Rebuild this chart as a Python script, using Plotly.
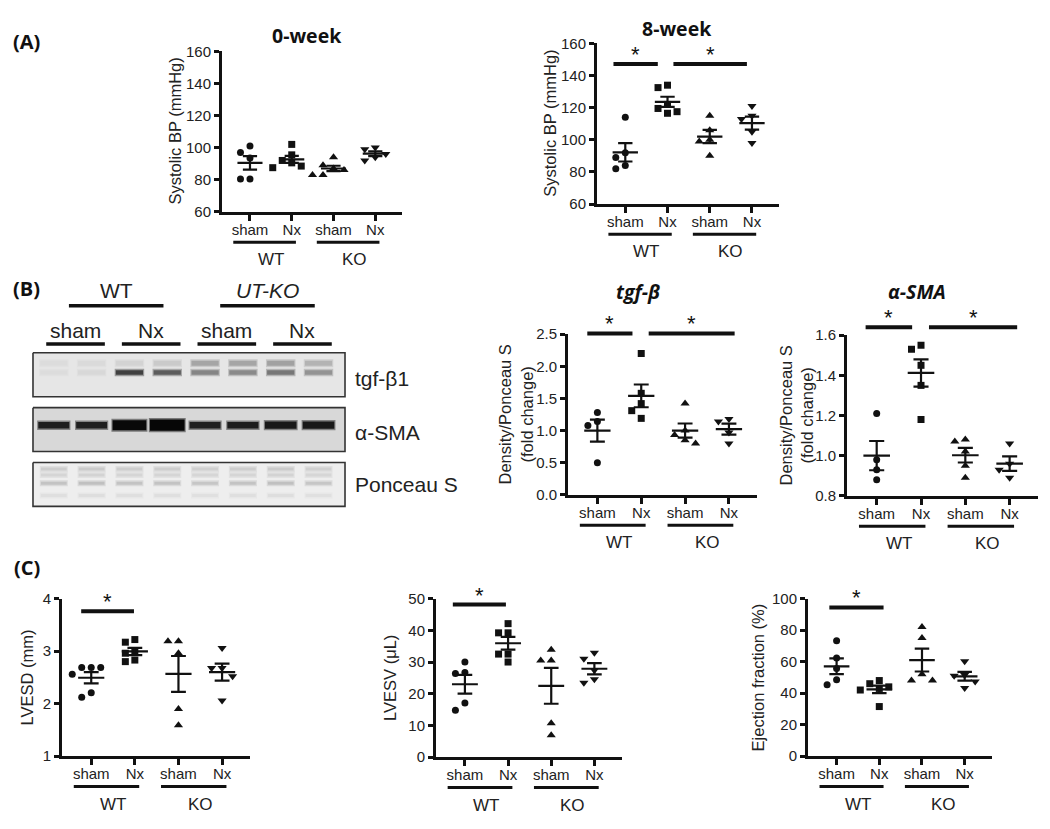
import numpy as np
import plotly.graph_objects as go

# reference canvas (page) and figure placed inside the default 8px body margin
PAGE_W, PAGE_H = 1050, 829
PAD = 8
W, H = PAGE_W - 2 * PAD, PAGE_H - 2 * PAD

# ---------------- data ----------------
categories = ["sham", "Nx", "sham", "Nx"]
genotypes = ["WT", "KO"]

# (A) systolic BP (mmHg)
bp0_wt_sham = [101, 97, 93.5, 80.5, 80.5]
bp0_wt_nx = [102, 95.5, 92, 90.5, 88.5, 87.5]
bp0_ko_sham = [94, 89, 87, 86, 83, 83]
bp0_ko_nx = [100, 99, 96, 94, 92]

bp8_wt_sham = [114, 92, 89, 84, 82]
bp8_wt_nx = [134, 132.5, 122, 119.5, 117.5, 116.5]
bp8_ko_sham = [115, 106, 100, 99, 90]
bp8_ko_nx = [121, 115, 113, 105, 98]

# (B) densitometry (fold change)
tgf_wt_sham = [1.28, 1.14, 1.08, 0.50]
tgf_wt_nx = [2.20, 1.58, 1.42, 1.31, 1.19]
tgf_ko_sham = [1.42, 1.00, 0.93, 0.85, 0.80]
tgf_ko_nx = [1.18, 1.14, 0.97, 0.80]

sma_wt_sham = [1.21, 0.98, 0.93, 0.88]
sma_wt_nx = [1.55, 1.53, 1.45, 1.35, 1.18]
sma_ko_sham = [1.08, 1.07, 1.02, 0.95, 0.89]
sma_ko_nx = [1.06, 0.96, 0.93, 0.89]

# (C) echocardiography
lvesd_wt_sham = [2.69, 2.69, 2.69, 2.56, 2.21, 2.12]
lvesd_wt_nx = [3.22, 3.17, 2.98, 2.96, 2.83, 2.80]
lvesd_ko_sham = [3.19, 3.19, 2.96, 1.90, 1.59]
lvesd_ko_nx = [3.06, 2.68, 2.68, 2.52, 2.06]

lvesv_wt_sham = [30.0, 26.7, 26.4, 17.1, 14.8]
lvesv_wt_nx = [42.1, 39.2, 39.2, 32.5, 32.5, 30.0]
lvesv_ko_sham = [33.9, 30.5, 30.5, 10.7, 6.9]
lvesv_ko_nx = [32.9, 31.0, 27.4, 24.6, 23.5]

ef_wt_sham = [73.2, 62.3, 55.7, 48.5, 45.4]
ef_wt_nx = [48, 46, 44, 43, 42, 31.5]
ef_ko_sham = [82, 75, 52, 48, 48]
ef_ko_nx = [60.2, 51.5, 51.1, 47.4, 43.3]

# western blot band densities per lane (WT sham x2, WT Nx x2, KO sham x2, KO Nx x2)
blot_lanes = [1, 2, 3, 4, 5, 6, 7, 8]
blot_lane_groups = ["sham", "Nx", "sham", "Nx"]
blot_genotypes = ["WT", "UT-KO"]
tgf_band = [0.04, 0.06, 0.72, 0.60, 0.42, 0.40, 0.48, 0.36]
tgf_upper_band = [0.04, 0.05, 0.08, 0.12, 0.28, 0.28, 0.30, 0.22]
asma_band = [1.0, 0.95, 2.2, 2.6, 0.95, 1.05, 1.25, 1.25]
ponceau_band = [0.30, 0.32, 0.30, 0.30, 0.28, 0.30, 0.32, 0.28]
blot_rows = ["tgf-β1", "α-SMA", "Ponceau S"]

# ---------------- layout / style ----------------
FONT = "Liberation Sans, Arial, sans-serif"
TFONT = "Open Sans, sans-serif"
XR = (-0.67, 3.64)
SYMBOLS = ["circle", "square", "triangle-up", "triangle-down"]
MSIZE = [7, 7, 8, 8]

# boxes are in page pixels: (left, right, top, bottom)
panels = [
    dict(series=[bp0_wt_sham, bp0_wt_nx, bp0_ko_sham, bp0_ko_nx], box=(222, 402, 43, 207),
         yr=(60, 160), dtick=20, fmt="d", ytitle="Systolic BP (mmHg)", ytx=175,
         title="<b>0-week</b>", txy=(307, 27), sig=[]),
    dict(series=[bp8_wt_sham, bp8_wt_nx, bp8_ko_sham, bp8_ko_nx], box=(597, 779, 35, 199),
         yr=(60, 160), dtick=20, fmt="d", ytitle="Systolic BP (mmHg)", ytx=550,
         title="<b>8-week</b>", txy=(677, 20), sig=[(-0.28, 0.77, 147.2), (1.14, 2.88, 147.2)]),
    dict(series=[tgf_wt_sham, tgf_wt_nx, tgf_ko_sham, tgf_ko_nx], box=(568, 757, 332, 496),
         yr=(0, 2.5), dtick=0.5, fmt=".1f", ytitle="Density/Ponceau S<br>(fold change)", ytx=516,
         title="<b><i>tgf-β</i></b>", txy=(638, 288), sig=[(-0.23, 0.8, 2.51), (1.17, 3.13, 2.51)]),
    dict(series=[sma_wt_sham, sma_wt_nx, sma_ko_sham, sma_ko_nx], box=(847, 1038, 333, 497),
         yr=(0.8, 1.6), dtick=0.2, fmt=".1f", ytitle="Density/Ponceau S<br>(fold change)", ytx=796,
         title="<b><i>α-SMA</i></b>", txy=(917, 288), sig=[(-0.25, 0.8, 1.64), (1.18, 3.17, 1.64)]),
    dict(series=[lvesd_wt_sham, lvesd_wt_nx, lvesd_ko_sham, lvesd_ko_nx], box=(62, 250, 602, 763),
         yr=(1, 4), dtick=1, fmt="d", ytitle="LVESD (mm)", ytx=27,
         title=None, txy=None, sig=[(-0.23, 0.98, 3.76)]),
    dict(series=[lvesv_wt_sham, lvesv_wt_nx, lvesv_ko_sham, lvesv_ko_nx], box=(436, 622, 602, 764),
         yr=(0, 50), dtick=10, fmt="d", ytitle="LVESV (μL)", ytx=390,
         title=None, txy=None, sig=[(-0.28, 0.95, 48.1)]),
    dict(series=[ef_wt_sham, ef_wt_nx, ef_ko_sham, ef_ko_nx], box=(808, 992, 602, 763),
         yr=(0, 100), dtick=20, fmt="d", ytitle="Ejection fraction (%)", ytx=758,
         title=None, txy=None, sig=[(-0.17, 1.1, 94.4)]),
]


def fx(px):
    return (px - PAD) / W


def fy(py):
    return 1 - (py - PAD) / H


def to_px(p, x, y):
    l, r, t, b = p["box"]
    y0, y1 = p["yr"]
    return (l + (x - XR[0]) / (XR[1] - XR[0]) * (r - l),
            b - (y - y0) / (y1 - y0) * (b - t))


def swarm(vals, px_per_unit, msize, px_per_cat):
    vals = np.asarray(vals, float)
    order = np.argsort(-vals, kind="stable")
    placed = []
    offs = np.zeros(len(vals))
    step = msize + 2.5
    cands = [0, -step, step, -2 * step, 2 * step, -3 * step, 3 * step]
    for i in order:
        yy = vals[i] * px_per_unit
        c = cands[-1]
        for cc in cands:
            if all((cc - a) ** 2 + (yy - bb) ** 2 >= (msize + 1.0) ** 2 for a, bb in placed):
                c = cc
                break
        placed.append((c, yy))
        offs[i] = c
    return offs / px_per_cat


fig = go.Figure()
shapes, annotations = [], []
layout_axes = {}


def hline(x0, x1, y, width):
    shapes.append(dict(type="line", xref="paper", yref="paper", x0=fx(x0), x1=fx(x1),
                       y0=fy(y), y1=fy(y), line=dict(color="#111", width=width)))


def text(x, y, s, size, family=FONT, xanchor="center", yanchor="middle", angle=0, color="#222"):
    annotations.append(dict(x=fx(x), y=fy(y), xref="paper", yref="paper", text=s,
                            showarrow=False, xanchor=xanchor, yanchor=yanchor, textangle=angle,
                            font=dict(family=family, size=size, color=color)))


for n, p in enumerate(panels, start=1):
    l, r, t, b = p["box"]
    y0, y1 = p["yr"]
    xa, ya = f"x{n}", f"y{n}"
    px_per_unit = (b - t) / (y1 - y0)
    px_per_cat = (r - l) / (XR[1] - XR[0])

    for g, vals in enumerate(p["series"]):
        offs = swarm(vals, px_per_unit, MSIZE[g], px_per_cat)
        fig.add_trace(go.Scatter(
            x=g + offs, y=vals, mode="markers", xaxis=xa, yaxis=ya, showlegend=False,
            cliponaxis=False, hoverinfo="skip",
            marker=dict(symbol=SYMBOLS[g], size=MSIZE[g], color="#111", line=dict(width=0))))
        v = np.asarray(vals, float)
        m = v.mean()
        s = v.std(ddof=1) / np.sqrt(len(v))
        fig.add_trace(go.Scatter(
            x=[g - 0.3, g + 0.3, None, g - 0.17, g + 0.17, None, g - 0.17, g + 0.17, None, g, g],
            y=[m, m, None, m + s, m + s, None, m - s, m - s, None, m - s, m + s],
            mode="lines", xaxis=xa, yaxis=ya, showlegend=False, cliponaxis=False,
            hoverinfo="skip", line=dict(color="#111", width=2.2)))

    tick_y = np.arange(y0, y1 + p["dtick"] / 2, p["dtick"])
    ttext = [f"{v:.0f}" if p["fmt"] == "d" else f"{v:.1f}" for v in tick_y]
    layout_axes[f"xaxis{n}"] = dict(
        domain=[fx(l), fx(r)], range=list(XR), anchor=ya, tickvals=[0, 1, 2, 3],
        ticktext=categories, showline=True, linewidth=3, linecolor="#111", ticks="outside",
        ticklen=6, tickwidth=2.5, tickcolor="#111", showgrid=False, zeroline=False,
        ticklabelstandoff=-4,
        tickfont=dict(family=FONT, size=15, color="#222"), fixedrange=True)
    layout_axes[f"yaxis{n}"] = dict(
        domain=[fy(b), fy(t)], range=[y0, y1], anchor=xa, tickvals=list(tick_y),
        ticktext=ttext, showline=True, linewidth=3, linecolor="#111", ticks="outside",
        ticklen=5, tickwidth=2.5, tickcolor="#111", showgrid=False, zeroline=False,
        tickfont=dict(family=FONT, size=15, color="#222"), fixedrange=True)

    text(p["ytx"], (t + b) / 2, p["ytitle"], 16.5, angle=-90)
    if p["title"]:
        text(p["txy"][0], p["txy"][1], p["title"], 19.5, family=TFONT, color="#111")
    # genotype underbars and labels
    for gi, gname in enumerate(genotypes):
        c0, c1 = 2 * gi, 2 * gi + 1
        xa0, _ = to_px(p, c0 - 0.4, y0)
        xa1, _ = to_px(p, c1 + 0.1, y0)
        hline(xa0, xa1, b + 31, 3)
        xc, _ = to_px(p, (c0 + c1) / 2, y0)
        text(xc, b + 49, gname, 17)
    # significance bars
    for (s0, s1, sy) in p["sig"]:
        bx0, by = to_px(p, s0, sy)
        bx1, _ = to_px(p, s1, sy)
        hline(bx0, bx1, by, 4)
        text((bx0 + bx1) / 2, by + 5, "*", 22, yanchor="bottom", color="#111")

# ---------------- western blot ----------------
nb = len(panels) + 1
BX_RANGE = (0.4, 8.75)
BY_RANGE = (2.83, -0.03)
b_l, b_r = 31.1, 346.9
b_t, b_b = 349.3, 509.5
bxa, bya = f"x{nb}", f"y{nb}"
layout_axes[f"xaxis{nb}"] = dict(domain=[fx(b_l), fx(b_r)], range=list(BX_RANGE), visible=False,
                                  anchor=bya, fixedrange=True)
layout_axes[f"yaxis{nb}"] = dict(domain=[fy(b_b), fy(b_t)], range=list(BY_RANGE),
                                  visible=False, anchor=bxa, fixedrange=True)


def lane_px(L):
    return b_l + (L - BX_RANGE[0]) / (BX_RANGE[1] - BX_RANGE[0]) * (b_r - b_l)


row_bg = [230, 216, 238]
for ri in range(3):
    g = row_bg[ri]
    fig.add_trace(go.Scatter(x=[0.45, 8.7, 8.7, 0.45, 0.45], y=[ri, ri, ri + 0.8, ri + 0.8, ri],
                             mode="lines", fill="toself", fillcolor=f"rgb({g},{g},{g})",
                             line=dict(width=0), xaxis=bxa, yaxis=bya, showlegend=False,
                             hoverinfo="skip"))


def band(lane, yrow, half, width, dark, bg):
    lv = int(bg * (1 - dark))
    soft = int(bg * (1 - 0.45 * dark))
    fig.add_trace(go.Scatter(x=[lane - half - 0.03, lane + half + 0.03], y=[yrow, yrow], mode="lines",
                             line=dict(color=f"rgb({soft},{soft},{soft})", width=width + 3),
                             xaxis=bxa, yaxis=bya, showlegend=False, hoverinfo="skip"))
    fig.add_trace(go.Scatter(x=[lane - half, lane + half], y=[yrow, yrow], mode="lines",
                             line=dict(color=f"rgb({lv},{lv},{lv})", width=width),
                             xaxis=bxa, yaxis=bya, showlegend=False, hoverinfo="skip"))


for i, L in enumerate(blot_lanes):
    band(L, 0.19, 0.36, 5, tgf_upper_band[i], row_bg[0])
    band(L, 0.36, 0.36, 4.5, tgf_band[i], row_bg[0])
    a = asma_band[i]
    band(L, 1.32, 0.38 + 0.03 * a, 3.5 + 3.0 * a, min(0.97, 0.78 + 0.08 * a), row_bg[1])
    for yy, k in [(2.12, 0.45), (2.23, 0.35), (2.38, 0.6), (2.6, 0.2)]:
        band(L, yy, 0.34, 3, ponceau_band[i] * k, row_bg[2])

row_label_y = [377, 432, 485]
for ri in range(3):
    fig.add_trace(go.Scatter(x=[0.45, 8.7, 8.7, 0.45, 0.45], y=[ri, ri, ri + 0.8, ri + 0.8, ri],
                             mode="lines", line=dict(width=1.6, color="#333"),
                             xaxis=bxa, yaxis=bya, showlegend=False, hoverinfo="skip"))
    text(353, row_label_y[ri], blot_rows[ri], 21, xanchor="left")

# lane-group labels
for k, lab in enumerate(blot_lane_groups):
    first, last = blot_lanes[2 * k], blot_lanes[2 * k + 1]
    x0, x1 = lane_px(first - 0.2), lane_px(last + 0.35)
    hline(x0, x1, 342, 3.5)
    text((x0 + x1) / 2, 328, lab, 21)
for k, lab in enumerate(blot_genotypes):
    first, last = blot_lanes[4 * k], blot_lanes[4 * k + 3]
    x0, x1 = lane_px(first + 0.4), lane_px(last - 0.1)
    hline(x0, x1, 303, 3.5)
    text((x0 + x1) / 2, 287, lab if k == 0 else f"<i>{lab}</i>", 21)

# panel letters
for lab, (lx, ly) in [("(A)", (26, 33)), ("(B)", (26, 285)), ("(C)", (27, 570))]:
    text(lx, ly, f"<b>{lab}</b>", 20, family=TFONT, color="#111")

fig.update_layout(width=W, height=H, autosize=False, margin=dict(l=0, r=0, t=0, b=0),
                  paper_bgcolor="white", plot_bgcolor="rgba(0,0,0,0)", showlegend=False,
                  hovermode=False, shapes=shapes, annotations=annotations, **layout_axes)

fig.write_html("out.html", config={"displayModeBar": False, "responsive": False})
